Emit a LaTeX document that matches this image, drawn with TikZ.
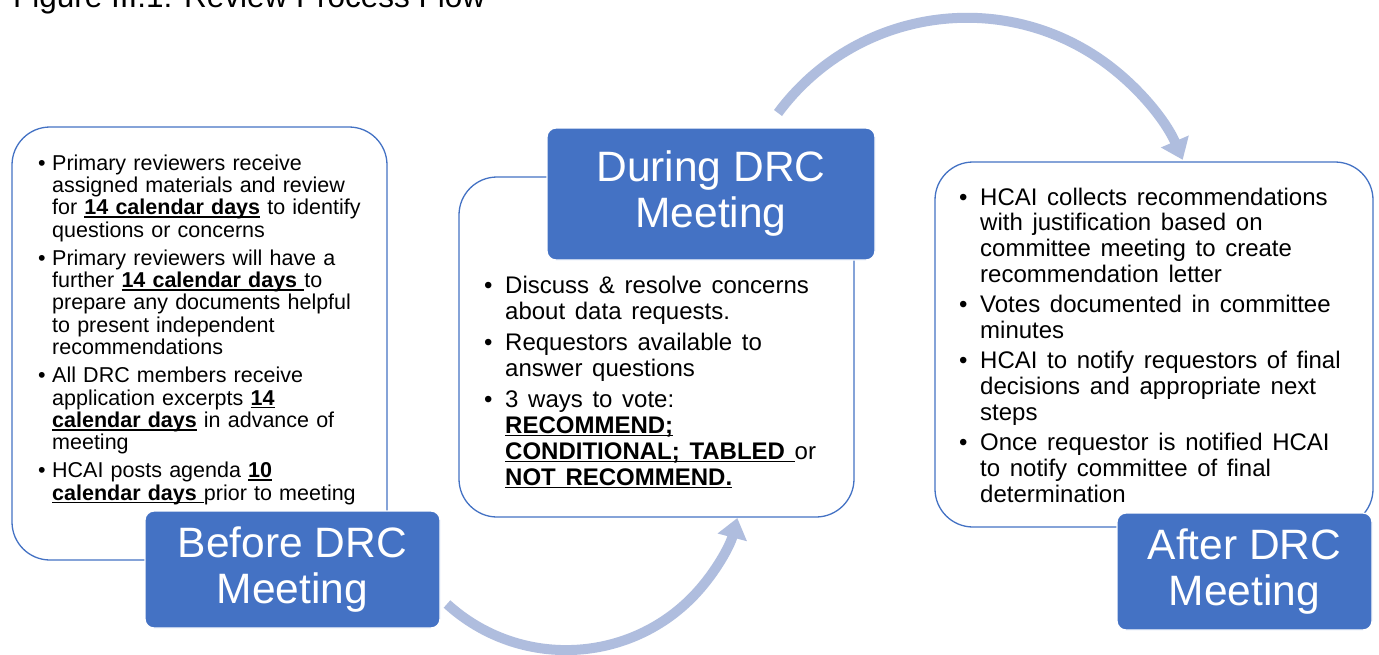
\documentclass[tikz,border=0pt]{standalone}
\usepackage{fontspec}
\setmainfont{Liberation Sans}
\usetikzlibrary{arrows.meta}
\definecolor{accent}{HTML}{4472C4}
\definecolor{arrowc}{RGB}{175,189,222}
\newcommand\myul[1]{\setbox0\hbox{\bfseries #1}\rlap{\rule[-3.3pt]{\wd0}{1.8pt}}\box0\relax}
\newcommand\bitem[2]{\hangindent=#1\hangafter=1\noindent\makebox[#1][l]{•}#2\par}
\tikzset{
  wbox/.style={draw=accent, line width=1.3pt, fill=white, rounded corners=38pt, inner sep=0pt},
  lbox/.style={draw=white, line width=1.3pt, fill=accent, rounded corners=9pt, inner sep=0pt,
    text=white, align=center, font=\fontsize{42.5pt}{46pt}\selectfont},
  body/.style={anchor=base west, inner sep=0pt},
  cyc/.style={draw=arrowc, line width=10pt, -{Triangle[width=29pt,length=20pt]}}
}
\begin{document}
\begin{tikzpicture}[x=1pt,y=-1pt]
\useasboundingbox (0,0) rectangle (1379,654);
\fill[white] (0,0) rectangle (1379,654);
\node[anchor=base west, inner sep=0pt, font=\fontsize{31.5pt}{36pt}\selectfont] (title) at (13,7.5) {Figure III.1: Review Process Flow};
% white boxes
\node[wbox, minimum width=375pt, minimum height=433pt] (bbox) at (199.5,343.5) {};
\node[wbox, minimum width=395pt, minimum height=340pt] (dbox) at (656.5,347) {};
\node[wbox, minimum width=438pt, minimum height=365pt] (abox) at (1154,344.5) {};
% cycle arrows
\coordinate (s1) at (447,604);
\coordinate (s2) at (778,113);
\draw[cyc] (s1) arc[start angle=132.3, end angle=14.7, radius=177];
\draw[cyc] (s2) arc[start angle=-143.5, end angle=-23.3, radius=235];
% body texts
\node[body] (btext) at (38,170) {\parbox[t]{420pt}{\fontsize{21.5pt}{22.4pt}\selectfont\spaceskip=1.2\fontdimen2\font\relax\setlength\parskip{5.5pt}%
\bitem{14pt}{Primary reviewers receive\\assigned materials and review\\for \myul{14 calendar days} to identify\\questions or concerns}
\bitem{14pt}{Primary reviewers will have a\\further \myul{14 calendar days\ }to\\prepare any documents helpful\\to present independent\\recommendations}
\bitem{14pt}{All DRC members receive\\application excerpts \myul{14}\\\myul{calendar days} in advance of\\meeting}
\bitem{14pt}{HCAI posts agenda \myul{10}\\\myul{calendar days\ }prior to meeting}}};
\node[body] (dtext) at (484,293) {\parbox[t]{420pt}{\fontsize{24pt}{26pt}\selectfont\spaceskip=1.45\fontdimen2\font\relax\setlength\parskip{5pt}%
\bitem{21pt}{Discuss \& resolve concerns\\about data requests.}
\bitem{21pt}{Requestors available to\\answer questions}
\bitem{21pt}{3 ways to vote:\\\myul{RECOMMEND;}\\\myul{CONDITIONAL; TABLED\ }or\\\myul{NOT RECOMMEND.}}}};
\node[body] (atext) at (959,205) {\parbox[t]{420pt}{\fontsize{24pt}{25.8pt}\selectfont\spaceskip=1.45\fontdimen2\font\relax\setlength\parskip{4.5pt}%
\bitem{21pt}{HCAI collects recommendations\\with justification based on\\committee meeting to create\\recommendation letter}
\bitem{21pt}{Votes documented in committee\\minutes}
\bitem{21pt}{HCAI to notify requestors of final\\decisions and appropriate next\\steps}
\bitem{21pt}{Once requestor is notified HCAI\\to notify committee of final\\determination}}};
% labels
\node[lbox, minimum width=295pt, minimum height=117pt] (before) at (292.5,569.5) {Before DRC\\Meeting};
\node[lbox, minimum width=328pt, minimum height=132pt] (during) at (711,194) {During DRC\\Meeting};
\node[lbox, minimum width=255pt, minimum height=117pt] (after) at (1244.5,571.5) {After DRC\\Meeting};
\end{tikzpicture}
\end{document}
